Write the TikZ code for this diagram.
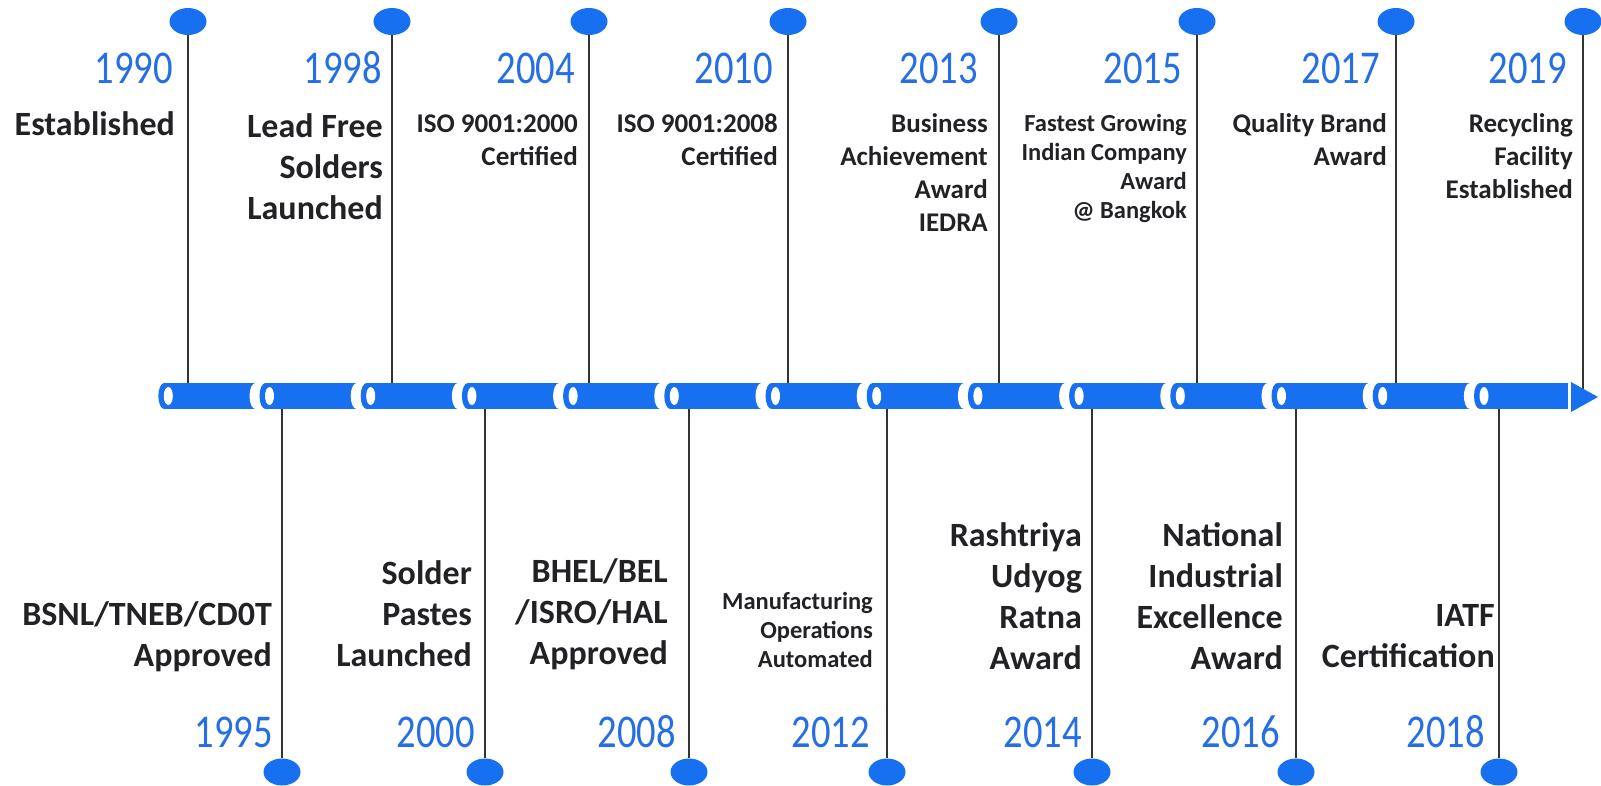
\documentclass[tikz,border=0pt]{standalone}
\usepackage{fontspec}
\setmainfont{Carlito}
\newfontfamily\yearfont[FakeStretch=0.82]{Carlito}
\usepackage{tikz}
\usetikzlibrary{shapes.geometric}
\definecolor{barblue}{RGB}{22,112,240}
\definecolor{yearblue}{RGB}{38,110,228}
\definecolor{labelgray}{RGB}{34,34,38}
\tikzstyle{bead} = [ellipse, fill=barblue, minimum width=37pt, minimum height=27pt, inner sep=0pt]
\tikzstyle{stem} = [draw, line width=1.1pt, black!80]
\tikzstyle{yeartext} = [anchor=base east, inner sep=0pt, text=yearblue, font=\yearfont\fontsize{47}{47}\selectfont]
\tikzstyle{bigtext} = [anchor=base east, inner sep=0pt, align=right, text=labelgray, font=\bfseries\fontsize{34}{41}\selectfont]
\tikzstyle{midtext} = [bigtext, font=\bfseries\fontsize{27}{33}\selectfont]
\tikzstyle{smalltext} = [bigtext, font=\bfseries\fontsize{24.5}{29}\selectfont]

\begin{document}
\begin{tikzpicture}[x=1pt, y=-1pt]
	\useasboundingbox (0,0) rectangle (1601,785);
	\coordinate (barmid) at (0,396);

	% beads above the bar
	\node [bead] (b1990) at (188,21.5) {};
	\node [bead] (b1998) at (392,21.5) {};
	\node [bead] (b2004) at (589,21.5) {};
	\node [bead] (b2010) at (788,21.5) {};
	\node [bead] (b2013) at (999,21.5) {};
	\node [bead] (b2015) at (1197,21.5) {};
	\node [bead] (b2017) at (1396,21.5) {};
	\node [bead] (b2019) at (1583,21.5) {};

	% beads below the bar
	\node [bead] (b1995) at (282,772) {};
	\node [bead] (b2000) at (485,772) {};
	\node [bead] (b2008) at (689,772) {};
	\node [bead] (b2012) at (887,772) {};
	\node [bead] (b2014) at (1092,772) {};
	\node [bead] (b2016) at (1296,772) {};
	\node [bead] (b2018) at (1499,772) {};

	% stems
	\path [stem] (b1990) -- (b1990 |- barmid);
	\path [stem] (b1998) -- (b1998 |- barmid);
	\path [stem] (b2004) -- (b2004 |- barmid);
	\path [stem] (b2010) -- (b2010 |- barmid);
	\path [stem] (b2013) -- (b2013 |- barmid);
	\path [stem] (b2015) -- (b2015 |- barmid);
	\path [stem] (b2017) -- (b2017 |- barmid);
	\path [stem] (b2019) -- (b2019 |- barmid);
	\path [stem] (b1995) -- (b1995 |- barmid);
	\path [stem] (b2000) -- (b2000 |- barmid);
	\path [stem] (b2008) -- (b2008 |- barmid);
	\path [stem] (b2012) -- (b2012 |- barmid);
	\path [stem] (b2014) -- (b2014 |- barmid);
	\path [stem] (b2016) -- (b2016 |- barmid);
	\path [stem] (b2018) -- (b2018 |- barmid);

	% the bar
	\foreach \i in {0,...,12} {
		\pgfmathsetmacro{\s}{158.3+101.2*\i}
		\fill [barblue] (\s+6,396) ellipse [x radius=6, y radius=13];
		\fill [barblue] (\s+6,383) rectangle (\s+97.2,409);
		\fill [white] (\s+97.2,396) ellipse [x radius=6, y radius=13];
		\fill [white] (\s+10,396) ellipse [x radius=4.5, y radius=9];
	}
	\fill [barblue] (1480,396) ellipse [x radius=6, y radius=13];
	\fill [barblue] (1480,383) rectangle (1568,409);
	\fill [white] (1484,396) ellipse [x radius=4.5, y radius=9];
	\fill [barblue] (1571,382) -- (1598,397) -- (1571,412) -- cycle;

	% years
	\node [yeartext] (y1990) at (173,83) {1990};
	\node [yeartext] (y1998) at (382,83) {1998};
	\node [yeartext] (y2004) at (575,83) {2004};
	\node [yeartext] (y2010) at (773,83) {2010};
	\node [yeartext] (y2013) at (978,83) {2013};
	\node [yeartext] (y2015) at (1182,83) {2015};
	\node [yeartext] (y2017) at (1380,83) {2017};
	\node [yeartext] (y2019) at (1567,83) {2019};
	\node [yeartext] (y1995) at (273,747) {1995};
	\node [yeartext] (y2000) at (475,747) {2000};
	\node [yeartext] (y2008) at (676,747) {2008};
	\node [yeartext] (y2012) at (870,747) {2012};
	\node [yeartext] (y2014) at (1082,747) {2014};
	\node [yeartext] (y2016) at (1280,747) {2016};
	\node [yeartext] (y2018) at (1485,747) {2018};

	% events above (base = last line)
	\node [bigtext] (e1990) at (175,135) {Established};
	\node [bigtext] (e1998) at (383,219) {Lead Free\\Solders\\Launched};
	\node [midtext] (e2004) at (578,165) {ISO 9001:2000\\Certified};
	\node [midtext] (e2010) at (778,165) {ISO 9001:2008\\Certified};
	\node [midtext] (e2013) at (988,231) {Business\\Achievement\\Award\\IEDRA};
	\node [smalltext] (e2015) at (1187,218) {Fastest Growing\\Indian Company\\Award\\@ Bangkok};
	\node [midtext] (e2017) at (1387,165) {Quality Brand\\Award};
	\node [midtext] (e2019) at (1573,198) {Recycling\\Facility\\Established};

	% events below
	\node [bigtext] (e1995) at (272,666) {BSNL/TNEB/CD0T\\Approved};
	\node [bigtext] (e2000) at (472,666) {Solder\\Pastes\\Launched};
	\node [bigtext] (e2008) at (668,664) {BHEL/BEL\\/ISRO/HAL\\Approved};
	\node [smalltext] (e2012) at (873,667) {Manufacturing\\Operations\\Automated};
	\node [bigtext] (e2014) at (1082,669) {Rashtriya\\Udyog\\Ratna\\Award};
	\node [bigtext] (e2016) at (1283,669) {National\\Industrial\\Excellence\\Award};
	\node [bigtext] (e2018) at (1495,667) {IATF\\Certification};
\end{tikzpicture}
\end{document}
